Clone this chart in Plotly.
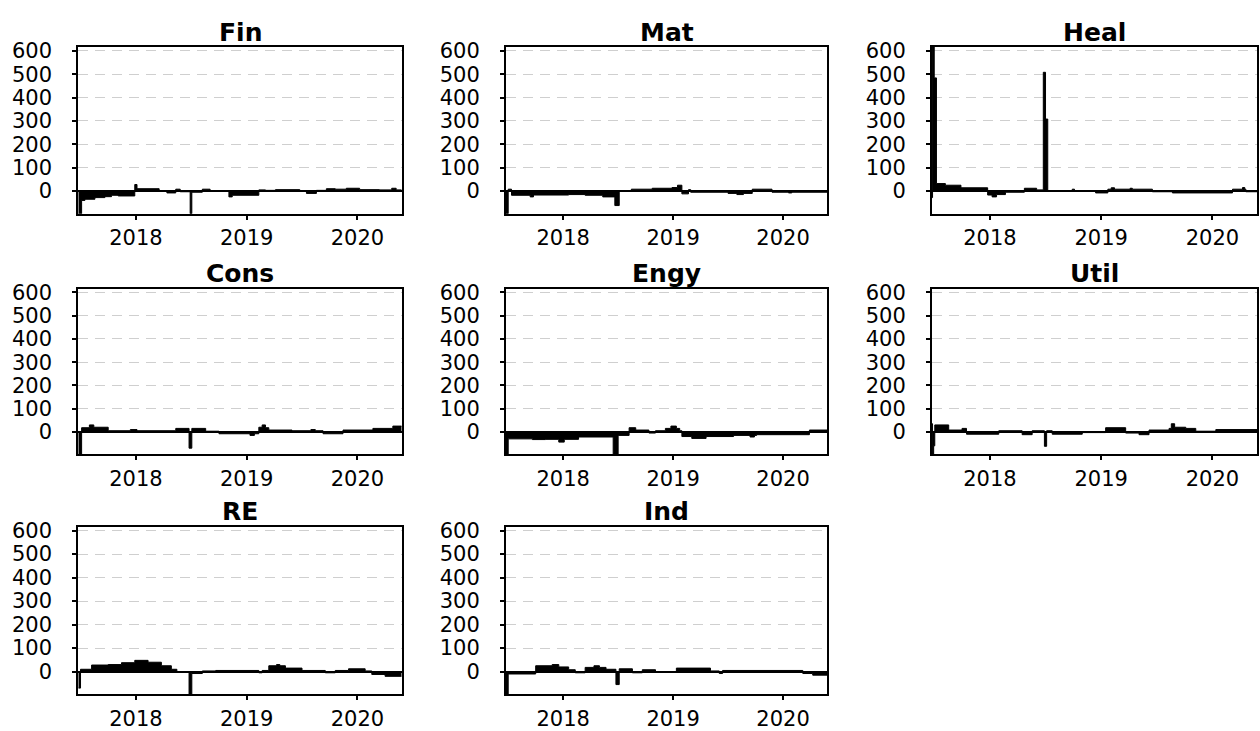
import plotly.graph_objects as go

# Sector panels, in reading order (3 columns x 3 rows, last cell empty)
sectors = ["Fin", "Mat", "Heal", "Cons", "Engy", "Util", "RE", "Ind"]

# Each series is a step profile: level v[i] is held from t[i] until t[i+1]
# (decimal years); the last level runs to END.
END = 2020.40

fin_t = [2017.48, 2017.51, 2017.54, 2017.63, 2017.72, 2017.78, 2017.84, 2017.99, 2018.01,
         2018.21, 2018.28, 2018.36, 2018.40, 2018.49, 2018.505, 2018.60, 2018.67, 2018.84,
         2018.87, 2019.11, 2019.17, 2019.26, 2019.48, 2019.54, 2019.63, 2019.72, 2019.80,
         2019.90, 2020.02, 2020.20, 2020.31, 2020.35]
fin_v = [-97, -40, -35, -28, -24, -18, -21, 28, 10,
         2, -8, 8, -3, -97, -5, 8, 0, -25,
         -18, 5, 3, 6, 0, -10, 3, 10, 8,
         12, 6, 5, 12, 5]

mat_t = [2017.48, 2017.50, 2017.53, 2017.70, 2017.73, 2018.05, 2018.20, 2018.36, 2018.47,
         2018.51, 2018.62, 2018.81, 2018.99, 2019.04, 2019.08, 2019.14, 2019.16, 2019.50,
         2019.58, 2019.64, 2019.72, 2019.90, 2020.05, 2020.08]
mat_v = [-97, 8, -18, -25, -17, -15, -18, -25, -62,
         0, 8, 12, 15, 25, -12, 6, -5, -10,
         -15, -10, 8, -5, -8, -5]

heal_t = [2017.48, 2017.485, 2017.50, 2017.52, 2017.60, 2017.74, 2017.98, 2018.02, 2018.06,
          2018.14, 2018.31, 2018.42, 2018.48, 2018.50, 2018.52, 2018.74, 2018.76, 2018.95,
          2019.06, 2019.09, 2019.12, 2019.26, 2019.28, 2019.46, 2019.64, 2020.18, 2020.27,
          2020.29, 2020.30]
heal_v = [-28, 617, 484, 32, 25, 14, -17, -25, -15,
          -5, 12, 5, 508, 308, 2, 8, 0, -8,
          8, 14, 8, 12, 8, -3, -8, 8, 15,
          8, -3]

cons_t = [2017.48, 2017.51, 2017.58, 2017.62, 2017.75, 2017.95, 2018.01, 2018.36, 2018.48,
          2018.505, 2018.63, 2018.75, 2019.03, 2019.07, 2019.11, 2019.14, 2019.17, 2019.20,
          2019.41, 2019.58, 2019.62, 2019.69, 2019.87, 2020.14, 2020.32]
cons_v = [-97, 18, 30, 20, 5, 10, 5, 15, -70,
          15, 3, -8, -15, -8, 20, 30, 18, 8,
          5, 10, 5, -8, 8, 15, 25]

engy_t = [2017.48, 2017.50, 2017.72, 2017.84, 2017.96, 2018.01, 2018.14, 2018.455, 2018.50,
          2018.60, 2018.66, 2018.78, 2018.84, 2018.93, 2018.98, 2019.03, 2019.06, 2019.08,
          2019.17, 2019.30, 2019.55, 2019.70, 2019.74, 2019.76, 2020.24]
engy_v = [-97, -30, -33, -32, -44, -32, -22, -97, -15,
          18, 8, -5, 5, 15, 25, 15, 5, -20,
          -28, -20, -15, -22, -15, -12, 8]

util_t = [2017.48, 2017.485, 2017.495, 2017.505, 2017.63, 2017.75, 2017.79, 2018.08, 2018.29,
          2018.38, 2018.49, 2018.51, 2018.56, 2018.83, 2019.04, 2019.22, 2019.34, 2019.43,
          2019.61, 2019.63, 2019.66, 2019.76, 2019.85, 2020.03]
util_v = [35, -97, -60, 30, 8, 15, -10, 5, -12,
          5, -62, 5, -10, -3, 18, -5, -12, 8,
          15, 35, 20, 15, 3, 10]

re_t = [2017.48, 2017.50, 2017.60, 2017.75, 2017.87, 2017.99, 2018.11, 2018.23, 2018.32,
        2018.37, 2018.48, 2018.505, 2018.60, 2018.72, 2019.11, 2019.14, 2019.20, 2019.27,
        2019.30, 2019.35, 2019.50, 2019.71, 2019.80, 2019.92, 2020.07, 2020.13, 2020.25]
re_v = [-70, 10, 28, 30, 38, 48, 40, 25, 10,
        -3, -97, -8, 3, 5, -5, 5, 25, 30,
        25, 15, 5, -5, 5, 12, 3, -12, -20]

ind_t = [2017.48, 2017.50, 2017.75, 2017.90, 2017.96, 2018.05, 2018.11, 2018.20, 2018.28,
         2018.33, 2018.39, 2018.48, 2018.51, 2018.63, 2018.72, 2018.84, 2019.03, 2019.34,
         2019.42, 2019.45, 2020.18, 2020.27]
ind_v = [-97, -10, 25, 30, 20, 8, -5, 18, 25,
         18, 10, -55, 12, -5, 8, 0, 15, 3,
         -8, 5, -8, -15]

series = {
    "Fin": (fin_t, fin_v), "Mat": (mat_t, mat_v), "Heal": (heal_t, heal_v),
    "Cons": (cons_t, cons_v), "Engy": (engy_t, engy_v), "Util": (util_t, util_v),
    "RE": (re_t, re_v), "Ind": (ind_t, ind_v),
}

year_ticks = [2018, 2019, 2020]
value_ticks = [0, 100, 200, 300, 400, 500, 600]
X_RANGE = [2017.48, 2020.40]
Y_RANGE = [-97, 617]

W, H = 1260, 731
# panel edges in pixels
col_px = [(78.3, 401.7), (506, 827), (932, 1257)]
row_px = [(39.3, 208.3), (284, 452), (525, 695)]

FONT = "DejaVu Sans"

fig = go.Figure()
layout = dict(
    width=W, height=H, margin=dict(l=0, r=0, t=0, b=0),
    paper_bgcolor="white", plot_bgcolor="white", showlegend=False,
    font=dict(family=FONT, color="black"),
)
annotations = []

for i, name in enumerate(sectors):
    r, c = divmod(i, 3)
    k = i + 1
    xa = "xaxis" if k == 1 else f"xaxis{k}"
    ya = "yaxis" if k == 1 else f"yaxis{k}"
    x0, x1 = col_px[c]
    y0, y1 = row_px[r]
    t, v = series[name]
    fig.add_trace(go.Scatter(
        x=list(t) + [END], y=list(v) + [v[-1]],
        mode="lines", line=dict(color="black", width=1, shape="hv"),
        fill="tozeroy", fillcolor="black",
        xaxis=f"x{k}" if k > 1 else "x", yaxis=f"y{k}" if k > 1 else "y",
        hoverinfo="skip",
    ))
    layout[xa] = dict(
        domain=[x0 / W, x1 / W], anchor=f"y{k}" if k > 1 else "y",
        range=X_RANGE, tickvals=year_ticks, ticktext=[str(y) for y in year_ticks],
        showgrid=False, zeroline=False,
        showline=True, linecolor="black", linewidth=2, mirror=True,
        ticks="outside", ticklen=4, tickwidth=1.5, tickcolor="black",
        tickfont=dict(family=FONT, size=21, color="black"),
        ticklabelstandoff=0,
    )
    layout[ya] = dict(
        domain=[1 - y1 / H, 1 - y0 / H], anchor=f"x{k}" if k > 1 else "x",
        range=Y_RANGE, tickvals=value_ticks,
        showgrid=True, gridcolor="#cfcfcf", gridwidth=1, griddash="10px,7px",
        zeroline=True, zerolinecolor="black", zerolinewidth=1.5,
        showline=True, linecolor="black", linewidth=2, mirror=True,
        ticks="outside", ticklen=4, tickwidth=1.5, tickcolor="black",
        tickfont=dict(family=FONT, size=21, color="black"),
        ticklabelstandoff=16,
    )
    annotations.append(dict(
        text=f"<b>{name}</b>", x=(x0 + x1) / 2 / W, y=1 - (y0 - 15) / H,
        xref="paper", yref="paper", xanchor="center", yanchor="middle",
        showarrow=False, font=dict(family=FONT, size=25, color="black"),
    ))

layout["annotations"] = annotations
fig.update_layout(**layout)
fig.write_html("out.html")
